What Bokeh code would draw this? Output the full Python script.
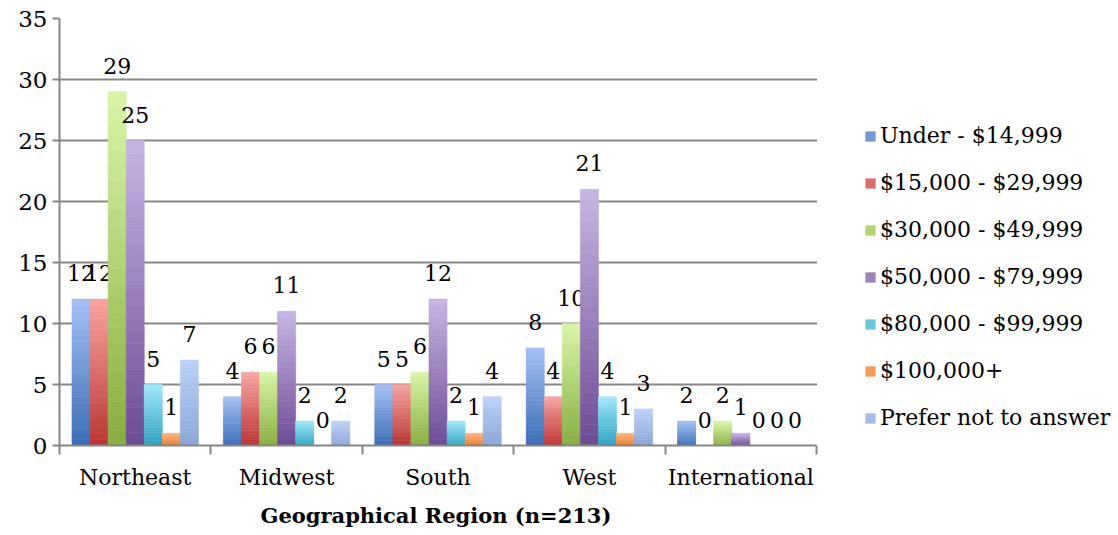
import numpy as np
from bokeh.plotting import figure
from bokeh.models import (ColumnDataSource, Legend, LegendItem, FixedTicker, Range1d,
                          BoxAnnotation, Title)
from bokeh.core.properties import value
from bokeh.embed import file_html
from bokeh.resources import INLINE

regions = ["Northeast", "Midwest", "South", "West", "International"]
series_names = ["Under - $14,999", "$15,000 - $29,999", "$30,000 - $49,999",
                "$50,000 - $79,999", "$80,000 - $99,999", "$100,000+",
                "Prefer not to answer"]
under_14999 = [12, 4, 5, 8, 2]
r15000_29999 = [12, 6, 5, 4, 0]
r30000_49999 = [29, 6, 6, 10, 2]
r50000_79999 = [25, 11, 12, 21, 1]
r80000_99999 = [5, 2, 2, 4, 0]
r100000_plus = [1, 0, 1, 1, 0]
prefer_not = [7, 2, 4, 3, 0]
series_values = [under_14999, r15000_29999, r30000_49999, r50000_79999,
                 r80000_99999, r100000_plus, prefer_not]
y_ticks = [0, 5, 10, 15, 20, 25, 30, 35]
x_title = "Geographical Region (n=213)"

top_colors = ["#a6c0f5", "#f7a5a2", "#d9f6a8", "#c7b6e2", "#a0e9fb", "#fbb482", "#bcd2f8"]
bottom_colors = ["#3a6cb4", "#b93533", "#87ad40", "#6c4b95", "#2ea1bf", "#ee7f2f", "#8aa5d6"]

FONT = "DejaVu Serif"
N_SLICES = 24
group_width = 0.835
bar_w = group_width / len(series_names)

# layout geometry (pixels)
W, H = 1118, 535
LEFT, TOP, BOTTOM = 59, 18, 90
PLOT_RIGHT = 816          # right edge of the chart area
n_cat = len(regions)
x_end = n_cat * (W - LEFT) / (PLOT_RIGHT - LEFT)


def hex2rgb(h):
    h = h.lstrip("#")
    return np.array([int(h[i:i + 2], 16) for i in (0, 2, 4)], dtype=float)


def rgb2hex(c):
    return "#%02x%02x%02x" % tuple(int(round(v)) for v in c)


p = figure(width=W, height=H, x_range=Range1d(0, x_end), y_range=Range1d(0, 35),
           output_backend="svg", toolbar_location=None,
           min_border_left=LEFT, min_border_top=TOP, min_border_bottom=BOTTOM,
           min_border_right=0)
p.outline_line_color = None
p.background_fill_color = "white"
p.border_fill_color = "white"

legend_items = []
for s, (name, vals) in enumerate(zip(series_names, series_values)):
    tc = hex2rgb(top_colors[s])
    bc = hex2rgb(bottom_colors[s])
    xs, bots, tops, cols = [], [], [], []
    for r, v in enumerate(vals):
        xc = r + 0.5 - group_width / 2 + bar_w * (s + 0.5)
        for k in range(N_SLICES):
            t = (k + 0.5) / N_SLICES
            xs.append(xc)
            bots.append(v * k / N_SLICES)
            tops.append(v * (k + 1) / N_SLICES)
            cols.append(rgb2hex(bc + (tc - bc) * t))
    src = ColumnDataSource(dict(x=xs, bottom=bots, top=tops, color=cols))
    rend = p.vbar(x="x", bottom="bottom", top="top", width=bar_w, fill_color="color",
                  line_color="color", line_width=0.6, source=src)
    legend_items.append(LegendItem(label=name, renderers=[rend], index=N_SLICES // 2))

    lx = [r + 0.5 - group_width / 2 + bar_w * (s + 0.5) for r in range(len(vals))]
    p.text(x=lx, y=vals, text=[str(v) for v in vals], text_align="center",
           text_baseline="bottom", y_offset=-18, text_font=value(FONT),
           text_font_size="22px", text_color="black")

# axes
p.yaxis.ticker = FixedTicker(ticks=y_ticks)
p.yaxis.axis_line_color = "#868686"
p.yaxis.axis_line_width = 2
p.yaxis.major_tick_line_color = "#868686"
p.yaxis.major_tick_line_width = 2
p.yaxis.major_tick_out = 7
p.yaxis.major_tick_in = 0
p.yaxis.minor_tick_line_color = None
p.yaxis.major_label_text_font = FONT
p.yaxis.major_label_text_font_size = "23px"
p.yaxis.major_label_text_color = "black"
p.yaxis.major_label_standoff = 5

centers = [r + 0.5 for r in range(n_cat)]
p.xaxis.bounds = (0, n_cat)
p.xaxis.ticker = FixedTicker(ticks=centers, minor_ticks=list(range(n_cat + 1)))
p.xaxis.major_label_overrides = {c: name for c, name in zip(centers, regions)}
p.xaxis.axis_line_color = "#868686"
p.xaxis.axis_line_width = 2
p.xaxis.major_tick_line_color = None
p.xaxis.major_tick_out = 0
p.xaxis.minor_tick_line_color = "#868686"
p.xaxis.minor_tick_line_width = 2
p.xaxis.minor_tick_out = 9
p.xaxis.minor_tick_in = 0
p.xaxis.major_label_text_font = FONT
p.xaxis.major_label_text_font_size = "22px"
p.xaxis.major_label_text_color = "black"
p.xaxis.major_label_standoff = 10

# axis title, centred under the chart area (not the legend zone)
title = Title(text=x_title, align="left", offset=201, text_font=FONT,
              text_font_style="bold", text_font_size="21px", text_color="black",
              standoff=16)
p.add_layout(title, "below")

p.xgrid.grid_line_color = None
p.ygrid.ticker = FixedTicker(ticks=y_ticks)
p.ygrid.grid_line_color = "#868686"
p.ygrid.grid_line_width = 2

# blank out the grid to the right of the chart area (legend zone)
p.add_layout(BoxAnnotation(left=n_cat + 0.004, fill_color="white", fill_alpha=1,
                           line_color=None, level="glyph"))

legend = Legend(items=legend_items, location=(PLOT_RIGHT - LEFT + 48, 15))
legend.border_line_color = None
legend.background_fill_alpha = 0
legend.margin = 0
legend.padding = 10
legend.glyph_width = 12
legend.glyph_height = 12
legend.label_text_font = FONT
legend.label_text_font_size = "22px"
legend.label_text_color = "black"
legend.label_standoff = 4
legend.spacing = 22
legend.label_height = 24
p.add_layout(legend)

open("out.html", "w").write(file_html(p, INLINE))
